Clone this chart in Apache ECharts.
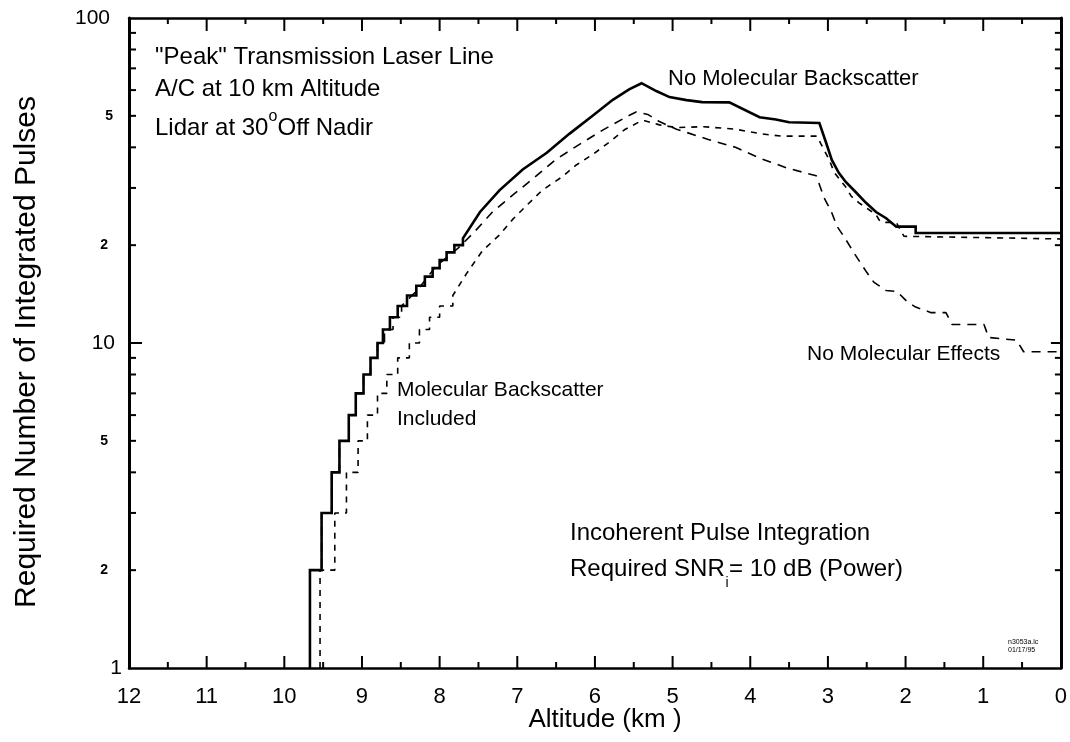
<!DOCTYPE html>
<html><head><meta charset="utf-8">
<script src="https://cdn.jsdelivr.net/npm/echarts@6/dist/echarts.min.js"></script>
<style>html,body{margin:0;padding:0;background:#fff}#c{width:1070px;height:742px}</style>
</head><body><div id="c"></div>
<script>
// ---- axis ticks / labels ----
const xTickValues = [0,1,2,3,4,5,6,7,8,9,10,11,12];
const xMajorTicks = [1,2,3,4,5,6,7,8,9,10,11];
const xMinorTicks = [0.5,1.5,2.5,3.5,4.5,5.5,6.5,7.5,8.5,9.5,10.5,11.5];
const yMajorTicks = [10];
const yMinorTicks = [2,3,4,5,6,7,8,9,20,30,40,50,60,70,80,90];
const yLabelValues = [1, 2, 5, 10, 20, 50, 100];
const yLabelTexts  = ['1', '2', '5', '10', '2', '5', '100'];

// ---- Solid: No Molecular Backscatter ----
// altitudes (km) where the required pulse count steps up by one, starting from 1
const noBackStepAlts = [9.67, 9.52, 9.39, 9.29, 9.17, 9.08, 8.98, 8.89, 8.80, 8.73, 8.64, 8.54, 8.42, 8.30, 8.19, 8.09, 8.00, 7.91, 7.81, 7.70];
const noBackAlt = [7.48, 7.23, 6.93, 6.62, 6.33, 6.03, 5.77, 5.56, 5.40, 5.21, 5.04, 4.82, 4.62, 4.27, 3.88, 3.67, 3.50, 3.11, 3.02, 2.95, 2.86, 2.77, 2.64, 2.51, 2.38, 2.25, 2.12, 1.87, 1.87, 0];
const noBackVal = [25.3, 29.5, 34.2, 38.5, 44, 50, 56, 60.3, 63, 59.6, 57.1, 55.9, 55.1, 55, 49.5, 48.7, 47.8, 47.5, 41.1, 36.6, 33.4, 31.3, 29.1, 27, 25.3, 24.2, 22.8, 22.8, 21.8, 21.8];

// ---- Dashed: No Molecular Effects ----
const noEffStepAlts = [9.67, 9.52, 9.39, 9.29, 9.17, 9.08, 8.98, 8.89, 8.80, 8.71, 8.60, 8.49];
const noEffAlt = [8.28, 8.05, 7.77, 7.55, 7.32, 7.06, 6.80, 6.51, 6.26, 5.90, 5.57, 5.47, 5.32, 5.17, 4.95, 4.54, 4.19, 3.87, 3.52, 3.15, 3.05, 2.96, 2.88, 2.79, 2.65, 2.50, 2.41, 2.25, 2.11, 1.98, 1.87, 1.67, 1.48, 1.40, 1.21, 0.99, 0.93, 0.57, 0.48, 0];
const noEffVal = [14.6, 17.2, 19.5, 22, 25.3, 28.5, 32, 36.6, 40, 45.2, 50, 51.4, 50.5, 48, 45.5, 42.3, 40, 37, 34.5, 32.7, 28, 25.5, 22.8, 21.2, 18.7, 16.5, 15.4, 14.5, 14.4, 13.4, 12.9, 12.4, 12.4, 11.4, 11.4, 11.4, 10.4, 10.2, 9.4, 9.4];

// ---- Dashed: Molecular Backscatter Included ----
const withBackStepAlts = [9.54, 9.35, 9.20, 9.05, 8.93, 8.80, 8.68, 8.54, 8.39, 8.26, 8.13, 8.00, 7.83];
const withBackAlt = [7.65, 7.45, 7.23, 7.06, 6.88, 6.68, 6.42, 6.24, 6.03, 5.81, 5.62, 5.43, 5.36, 5.17, 4.95, 4.60, 4.20, 3.85, 3.60, 3.14, 3.09, 2.98, 2.92, 2.77, 2.70, 2.60, 2.47, 2.38, 2.34, 2.30, 2.12, 2.02, 0];
const withBackVal = [16.4, 19.2, 21.5, 24, 26.5, 29.5, 32.5, 35.3, 38, 41.6, 45.3, 47.9, 48.3, 46.9, 46, 46.3, 45.5, 44, 43.3, 43.3, 41, 36.5, 33.5, 30.2, 28.3, 27, 25.7, 24.8, 23.9, 23.5, 23.5, 21.3, 20.9];

function buildCurve(stepAlts, alts, vals) {
  const pts = [];
  stepAlts.forEach((a, i) => { pts.push([a, i + 1]); pts.push([a, i + 2]); });
  alts.forEach((a, i) => pts.push([a, vals[i]]));
  return pts;
}

const FF = '"Liberation Sans", Arial, Helvetica, sans-serif';
const BLACK = '#000';
const lg = v => Math.log10(v);
const X_MIN = 0, X_MAX = 12, Y_MIN = 1, Y_MAX = 100;

// tick data: [x, y, lengthA, lengthB, kind]  kind 0 = x tick (bottom/top), 1 = y tick (left/right)
const tickData = []
  .concat(xMajorTicks.map(v => [v, Y_MIN, 12, 13, 0]))
  .concat(xMinorTicks.map(v => [v, Y_MIN, 6, 6, 0]))
  .concat(yMajorTicks.map(v => [X_MAX, v, 13, 10, 1]))
  .concat(yMinorTicks.map(v => [X_MAX, v, 7, 6, 1]));

const chart = echarts.init(document.getElementById('c'), null, {renderer: 'canvas'});

const yLabelCfg = {
  show: true, margin: 7, color: BLACK, fontFamily: FF,
  customValues: yLabelValues.map(lg),
  formatter: function (v) {
    const n = Math.round(Math.pow(10, v));
    const i = yLabelValues.indexOf(n);
    const t = yLabelTexts[i];
    if (n === 1) return '{b1|' + t + '}';
    if (n === 10) return '{b10|' + t + '}';
    if (n === 100) return '{b100|' + t + '}';
    if (n === 50) return '{s50|' + t + '}';
    return '{s|' + t + '}';
  },
  rich: {
    b1: {fontSize: 21, fontFamily: FF, color: BLACK, padding: [0, 0, 0, 0]},
    b10: {fontSize: 21, fontFamily: FF, color: BLACK, padding: [0, 7, 0, 0]},
    b100: {fontSize: 21, fontFamily: FF, color: BLACK, padding: [0, 12, 0, 0]},
    s: {fontSize: 14, fontWeight: 'bold', fontFamily: FF, color: BLACK, padding: [0, 14, 0, 0]},
    s50: {fontSize: 14, fontWeight: 'bold', fontFamily: FF, color: BLACK, padding: [0, 9, 0, 0]}
  }
};

function txt(x, y, text, size, align) {
  return {
    type: 'text', x: x, y: y, silent: true,
    style: {text: text, fontSize: size, fontFamily: FF, fill: BLACK, align: align || 'left', verticalAlign: 'middle'}
  };
}

function renderTick(params, api) {
  const kind = api.value(4);
  const la = api.value(2), lb = api.value(3);
  const st = {stroke: BLACK, lineWidth: 2};
  if (kind === 0) {
    const x = api.value(0);
    const pb = api.coord([x, Y_MIN]), pt = api.coord([x, Y_MAX]);
    return {type: 'group', children: [
      {type: 'line', shape: {x1: pb[0], y1: pb[1], x2: pb[0], y2: pb[1] - la}, style: st},
      {type: 'line', shape: {x1: pt[0], y1: pt[1], x2: pt[0], y2: pt[1] + lb}, style: st}
    ]};
  }
  const y = api.value(1);
  const pl = api.coord([X_MAX, y]), pr = api.coord([X_MIN, y]);
  return {type: 'group', children: [
    {type: 'line', shape: {x1: pl[0], y1: pl[1], x2: pl[0] + la, y2: pl[1]}, style: st},
    {type: 'line', shape: {x1: pr[0], y1: pr[1], x2: pr[0] - lb, y2: pr[1]}, style: st}
  ]};
}

const option = {
  animation: false,
  backgroundColor: '#fff',
  grid: {left: 129, right: 7, top: 18, bottom: 74, containLabel: false},
  xAxis: [
    {
      type: 'value', min: X_MIN, max: X_MAX, interval: 1, inverse: true, position: 'bottom',
      axisLine: {show: true, onZero: false, lineStyle: {color: BLACK, width: 2.5}},
      axisTick: {show: false},
      axisLabel: {show: true, margin: 18, fontSize: 22, color: BLACK, fontFamily: FF,
        customValues: xTickValues, formatter: v => String(v)},
      splitLine: {show: false}
    },
    {
      type: 'value', min: X_MIN, max: X_MAX, interval: 1, inverse: true, position: 'top',
      axisLine: {show: true, onZero: false, lineStyle: {color: BLACK, width: 2.5}},
      axisTick: {show: false}, axisLabel: {show: false}, splitLine: {show: false}
    }
  ],
  yAxis: [
    {
      type: 'log', logBase: 10, min: Y_MIN, max: Y_MAX, position: 'left',
      axisLine: {show: true, onZero: false, lineStyle: {color: BLACK, width: 3}},
      axisTick: {show: false}, axisLabel: {show: false}, splitLine: {show: false}
    },
    {
      type: 'value', min: 0, max: 2, position: 'left',
      axisLine: {show: false, onZero: false}, axisTick: {show: false},
      axisLabel: yLabelCfg, splitLine: {show: false}
    },
    {
      type: 'log', logBase: 10, min: Y_MIN, max: Y_MAX, position: 'right',
      axisLine: {show: true, onZero: false, lineStyle: {color: BLACK, width: 3}},
      axisTick: {show: false}, axisLabel: {show: false}, splitLine: {show: false}
    }
  ],
  series: [
    {
      name: 'ticks', type: 'custom', xAxisIndex: 0, yAxisIndex: 0, clip: false, silent: true, z: 5,
      renderItem: renderTick, data: tickData
    },
    {
      name: 'Molecular Backscatter Included', type: 'line', xAxisIndex: 0, yAxisIndex: 0,
      data: buildCurve(withBackStepAlts, withBackAlt, withBackVal),
      showSymbol: false, symbol: 'none', silent: true, z: 3,
      lineStyle: {color: BLACK, width: 1.6, type: [6, 6]}
    },
    {
      name: 'No Molecular Effects', type: 'line', xAxisIndex: 0, yAxisIndex: 0,
      data: buildCurve(noEffStepAlts, noEffAlt, noEffVal),
      showSymbol: false, symbol: 'none', silent: true, z: 3,
      lineStyle: {color: BLACK, width: 1.6, type: [9, 7]}
    },
    {
      name: 'No Molecular Backscatter', type: 'line', xAxisIndex: 0, yAxisIndex: 0,
      data: buildCurve(noBackStepAlts, noBackAlt, noBackVal),
      showSymbol: false, symbol: 'none', silent: true, z: 4,
      lineStyle: {color: BLACK, width: 2.6, type: 'solid', join: 'miter'}
    }
  ],
  graphic: [
    txt(155, 57.5, '"Peak" Transmission Laser Line', 24),
    txt(155, 89.5, 'A/C at 10 km Altitude', 24),
    txt(155, 128.5, 'Lidar at 30', 24),
    txt(268.6, 117, 'o', 16),
    txt(277.5, 128.5, 'Off Nadir', 24),
    txt(668, 79, 'No Molecular Backscatter', 22),
    txt(397, 390.5, 'Molecular Backscatter', 21),
    txt(397, 419.5, 'Included', 21),
    txt(807, 354.5, 'No Molecular Effects', 21),
    txt(570, 533.5, 'Incoherent Pulse Integration', 24),
    txt(570, 569.5, 'Required SNR', 24),
    txt(725.5, 583, 'i', 14),
    txt(729, 569.5, '= 10 dB (Power)', 24),
    txt(1008, 642, 'n3053a.lc', 7),
    txt(1008, 650, '01/17/95', 7),
    txt(605, 720, 'Altitude (km )', 26, 'center'),
    {
      type: 'text', x: 27, y: 352, rotation: Math.PI / 2, silent: true,
      style: {text: 'Required Number of Integrated Pulses', fontSize: 30, fontFamily: FF, fill: BLACK, align: 'center', verticalAlign: 'middle'}
    }
  ]
};
chart.setOption(option);
</script>
</body></html>
